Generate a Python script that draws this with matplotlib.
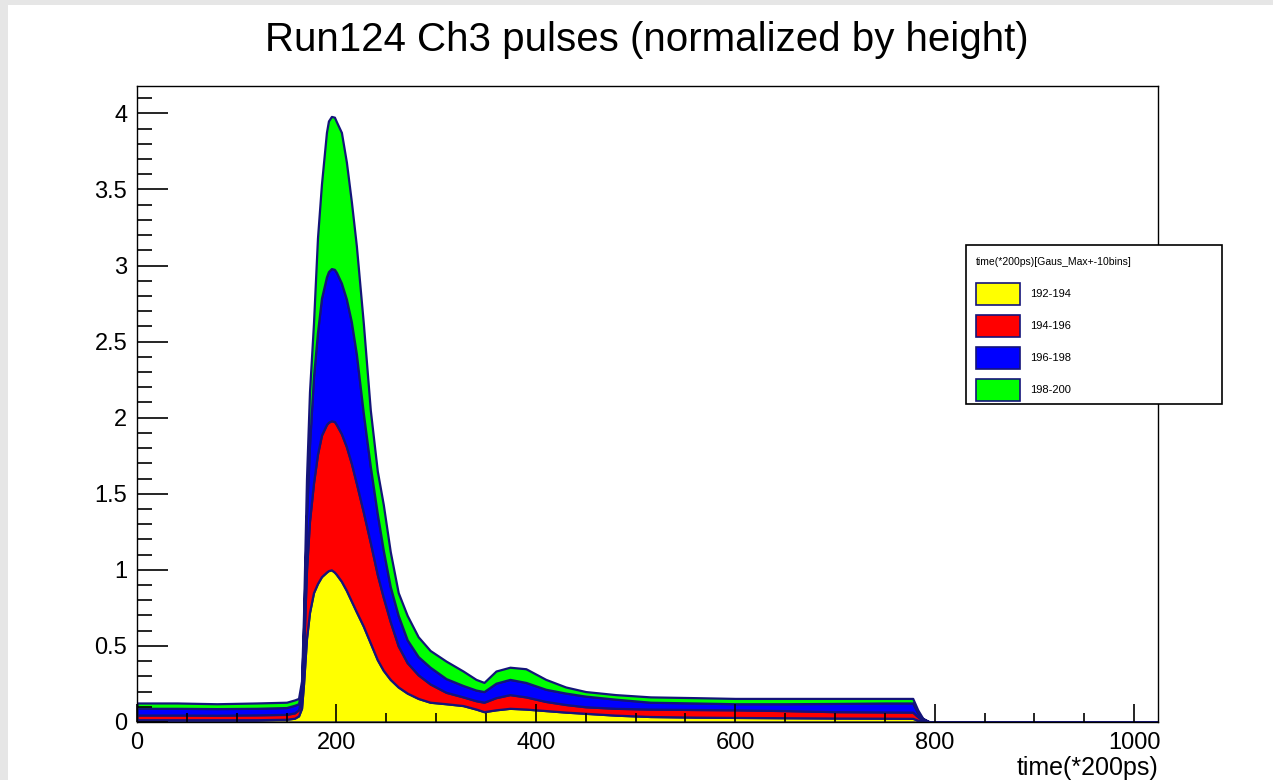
import matplotlib.pyplot as plt
from matplotlib.patches import Rectangle
from matplotlib.ticker import MultipleLocator

# time bins (*200ps)
t = [0, 40, 80, 120, 150, 158, 162, 165, 167, 170, 173, 177, 181, 185, 190, 192,
     195, 198, 200, 205, 210, 215, 220, 227, 234, 241, 247, 254, 262, 271, 282,
     294, 310, 327, 340, 348, 360, 374, 390, 410, 430, 450, 480, 515, 560, 600,
     650, 700, 750, 778, 783, 788, 795, 1024]

# normalized pulse per time window
p_192_194 = [.015, .015, .015, .015, .018, .025, .040, .090, .250, .550, .720, .850,
             .910, .955, .985, .995, 1.000, .985, .970, .925, .865, .795, .725, .630,
             .520, .410, .340, .280, .230, .190, .155, .130, .120, .108, .085, .068,
             .080, .090, .085, .075, .065, .057, .045, .036, .032, .030, .028, .026,
             .025, .024, .012, .004, 0, 0]
p_194_196 = [.031, .031, .030, .032, .032, .035, .040, .070, .200, .450, .600, .720,
             .850, .930, .970, .975, .980, .990, .985, .970, .945, .905, .845, .750,
             .660, .560, .480, .380, .270, .200, .155, .120, .075, .057, .055, .062,
             .080, .090, .080, .060, .050, .043, .045, .049, .050, .050, .047, .042,
             .041, .041, .023, .008, 0, 0]
p_196_198 = [.044, .044, .043, .043, .045, .050, .040, .060, .150, .350, .500, .700,
             .800, .900, .970, .990, 1.000, 1.000, 1.000, .990, .970, .930, .850, .650,
             .500, .400, .310, .230, .200, .150, .120, .110, .090, .075, .070, .070,
             .095, .100, .095, .080, .075, .070, .060, .045, .043, .040, .045, .054,
             .059, .060, .025, .008, 0, 0]
p_198_200 = [.035, .035, .032, .035, .035, .035, .035, .050, .100, .250, .350, .350,
             .620, .750, .950, .990, 1.000, 1.000, .990, .990, .900, .790, .710, .590,
             .370, .280, .300, .230, .150, .160, .130, .110, .115, .095, .070, .060,
             .080, .080, .090, .065, .040, .030, .030, .035, .035, .035, .035, .033,
             .030, .030, .020, .005, 0, 0]

labels = ["192-194", "194-196", "196-198", "198-200"]
colors = ["#ffff00", "#ff0000", "#0000ff", "#00ff00"]
edge = "#14147a"

plt.rcParams['font.family'] = ['Liberation Sans', 'DejaVu Sans']

fig = plt.figure(figsize=(12.73, 7.8), dpi=100)
ax = fig.add_axes([137/1273, 1 - 722/780, (1158 - 137)/1273, (722 - 86)/780])

ax.stackplot(t, p_192_194, p_194_196, p_196_198, p_198_200,
             colors=colors, edgecolor=edge, linewidth=1.6)

ax.set_xlim(0, 1024)
ax.set_ylim(0, 4.18)
ax.xaxis.set_major_locator(MultipleLocator(200))
ax.xaxis.set_minor_locator(MultipleLocator(50))
ax.yaxis.set_major_locator(MultipleLocator(0.5))
ax.yaxis.set_minor_locator(MultipleLocator(0.1))
ax.yaxis.set_major_formatter(plt.FuncFormatter(lambda v, p: "%g" % v))

ax.tick_params(axis='y', which='major', direction='in', length=22, width=1.2,
               labelsize=17, pad=7)
ax.tick_params(axis='y', which='minor', direction='in', length=11, width=1.2)
ax.tick_params(axis='x', which='major', direction='in', length=13, width=1.2,
               labelsize=17, pad=7)
ax.tick_params(axis='x', which='minor', direction='in', length=6.5, width=1.2)
for s in ax.spines.values():
    s.set_linewidth(1.0)

fig.text(1158/1273, 1 - 768/780, "time(*200ps)", ha='right', va='center', fontsize=18)
fig.text(0.5 + 10/1273, 1 - 40/780, "Run124 Ch3 pulses (normalized by height)",
         ha='center', va='center', fontsize=29)

# legend box drawn like ROOT's TLegend
W, H = 1273, 780
fig.patches.append(Rectangle((966/W, 1 - 404/H), (1222 - 966)/W, (404 - 245)/H,
                             transform=fig.transFigure, facecolor='white',
                             edgecolor='black', linewidth=1.2, zorder=5))
fig.text(976/W, 1 - 262/H, "time(*200ps)[Gaus_Max+-10bins]", fontsize=7.5,
         ha='left', va='center', zorder=6)
for i, (lab, c) in enumerate(zip(labels, colors)):
    yc = 294 + i * 32
    fig.patches.append(Rectangle((976/W, 1 - (yc + 11)/H), 44/W, 22/H,
                                 transform=fig.transFigure, facecolor=c,
                                 edgecolor=edge, linewidth=1.2, zorder=6))
    fig.text(1030/W, 1 - yc/H, lab, fontsize=8, ha='left', va='center', zorder=6)

# canvas window border
fig.patches.append(Rectangle((0, 0), 8/W, 1, transform=fig.transFigure,
                             facecolor='#e6e6e6', edgecolor='none', zorder=0))
fig.patches.append(Rectangle((0, 1 - 5/H), 1, 5/H, transform=fig.transFigure,
                             facecolor='#e6e6e6', edgecolor='none', zorder=0))

fig.savefig("out.png", dpi=100)
